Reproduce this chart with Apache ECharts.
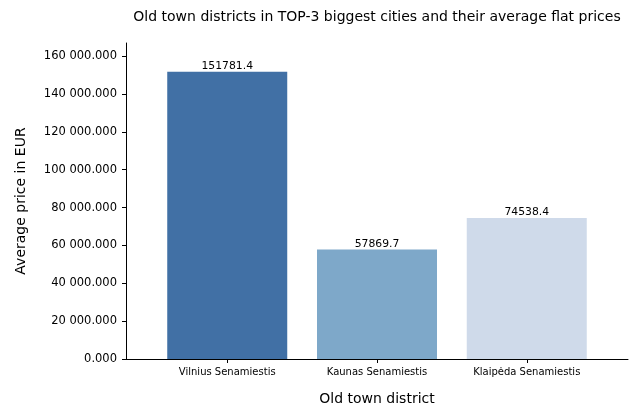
<!DOCTYPE html>
<html>
<head>
<meta charset="utf-8">
<script src="https://cdn.jsdelivr.net/npm/echarts@6/dist/echarts.min.js"></script>
<style>html,body{margin:0;padding:0;background:#fff}#c{width:639px;height:411px}</style>
</head>
<body>
<div id="c"></div>
<script>
var categories = ['Vilnius Senamiestis', 'Kaunas Senamiestis', 'Klaipėda Senamiestis'];
var prices = [151781.4, 57869.7, 74538.4];
var barColors = ['#4170a5', '#7ea8c9', '#cfdaea'];
var yTicks = [0, 20000, 40000, 60000, 80000, 100000, 120000, 140000, 160000];

var FONT = 'DejaVu Sans';
function fmtY(v) {
  var s = String(Math.round(v)).replace(/\B(?=(\d{3})+(?!\d))/g, ' ');
  return s + '.000';
}
var chart = echarts.init(document.getElementById('c'), null, {renderer: 'canvas'});
chart.setOption({
  animation: false,
  backgroundColor: '#fff',
  textStyle: {fontFamily: FONT},
  title: {
    text: 'Old town districts in TOP-3 biggest cities and their average flat prices',
    left: 372, top: 5, textAlign: 'center',
    textStyle: {fontFamily: FONT, fontSize: 14, fontWeight: 'normal', color: '#000'}
  },
  grid: {left: 126, right: 11, top: 43, bottom: 52},
  xAxis: {
    type: 'value', min: -0.676, max: 2.676,
    name: 'Old town district', nameLocation: 'middle', nameGap: 33,
    nameTextStyle: {fontFamily: FONT, fontSize: 14, color: '#000'},
    axisLine: {show: true, onZero: false, lineStyle: {color: '#000', width: 1}},
    axisTick: {show: true, length: 4, customValues: [0, 1, 2], lineStyle: {color: '#000'}},
    axisLabel: {customValues: [0, 1, 2], margin: 8, fontFamily: FONT, fontSize: 10, color: '#000',
      formatter: function (v) { return categories[Math.round(v)] || ''; }},
    splitLine: {show: false}
  },
  yAxis: {
    type: 'value', min: 0, max: 166960,
    name: 'Average price in EUR', nameLocation: 'middle', nameGap: 98,
    nameTextStyle: {fontFamily: FONT, fontSize: 14, color: '#000'},
    axisLine: {show: true, onZero: false, lineStyle: {color: '#000', width: 1}},
    axisTick: {show: true, length: 4, customValues: yTicks, lineStyle: {color: '#000'}},
    axisLabel: {customValues: yTicks, margin: 9, fontFamily: FONT, fontSize: 11.5, color: '#000', formatter: fmtY},
    splitLine: {show: false}
  },
  series: [{
    type: 'bar',
    barWidth: 120,
    data: prices.map(function (p, i) {
      return {value: [i, p], itemStyle: {color: barColors[i]}};
    }),
    label: {
      show: true, position: 'top', distance: 0,
      fontFamily: FONT, fontSize: 10.8, color: '#000',
      formatter: function (p) { return String(p.value[1]); }
    }
  }]
});
</script>
</body>
</html>
